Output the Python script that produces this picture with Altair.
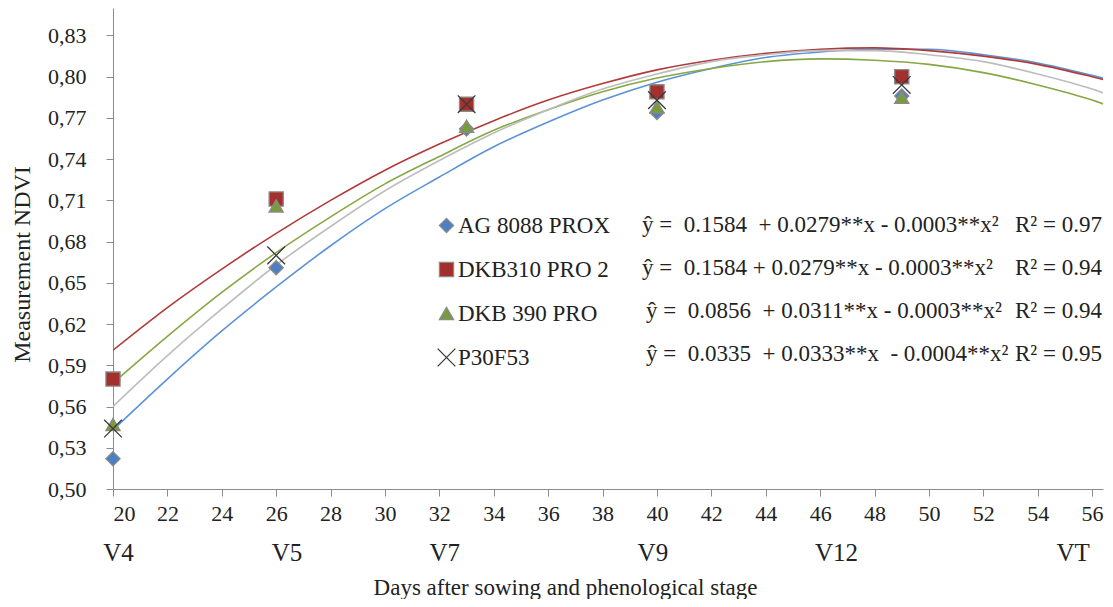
import altair as alt
import pandas as pd

# ---------------- data ----------------
names = ["AG 8088 PROX", "DKB310 PRO 2", "DKB 390 PRO", "P30F53"]

days = [20, 26, 33, 40, 49]
pt_ag8088 = [0.522, 0.661, 0.762, 0.774, 0.786]
pt_dkb310 = [0.580, 0.711, 0.780, 0.789, 0.800]
pt_dkb390 = [0.547, 0.706, 0.764, 0.778, 0.785]
pt_p30f53 = [0.544, 0.670, 0.780, 0.783, 0.794]

curve_days = [20, 22, 24, 26, 28, 30, 32, 34, 36, 38, 40, 42, 44, 46, 48, 50, 52, 54, 56, 57]
fit_ag8088 = [0.543, 0.580, 0.615, 0.647, 0.677, 0.704, 0.727, 0.749, 0.767, 0.783,
              0.796, 0.806, 0.814, 0.818, 0.820, 0.820, 0.816, 0.810, 0.801, 0.796]
fit_dkb310 = [0.601, 0.632, 0.660, 0.686, 0.710, 0.732, 0.751, 0.768, 0.783, 0.795,
              0.805, 0.812, 0.817, 0.820, 0.821, 0.819, 0.815, 0.809, 0.800, 0.795]
fit_dkb390 = [0.577, 0.611, 0.643, 0.672, 0.698, 0.722, 0.742, 0.761, 0.776, 0.789,
              0.799, 0.806, 0.811, 0.813, 0.812, 0.809, 0.803, 0.794, 0.783, 0.776]
fit_p30f53 = [0.560, 0.597, 0.631, 0.663, 0.691, 0.717, 0.739, 0.759, 0.776, 0.791,
              0.802, 0.811, 0.816, 0.819, 0.819, 0.816, 0.811, 0.802, 0.791, 0.784]

stage_labels = ["V4", "V5", "V7", "V9", "V12", "VT"]
stage_days = [20.2, 26.4, 32.2, 39.85, 46.6, 55.3]

equations = [
    "ŷ =\u00a0 0.1584\u00a0 + 0.0279**x - 0.0003**x²",
    "ŷ =\u00a0 0.1584 + 0.0279**x - 0.0003**x²",
    "ŷ =\u00a0 0.0856\u00a0 + 0.0311**x - 0.0003**x²",
    "ŷ =\u00a0 0.0335\u00a0 + 0.0333**x\u00a0 - 0.0004**x²",
]
r2_labels = ["R² = 0.97", "R² = 0.94", "R² = 0.94", "R² = 0.95"]

y_ticks = [0.50, 0.53, 0.56, 0.59, 0.62, 0.65, 0.68, 0.71, 0.74, 0.77, 0.80, 0.83]
x_ticks = list(range(20, 57, 2))

# ---------------- styling ----------------
FONT = "Liberation Serif"
line_colors = ["#5B93D6", "#B03C3A", "#86A844", "#BDBDBD"]
fill_colors = ["#4C80C4", "#A3302D", "#7A9B3C", "#333333"]
stroke_colors = ["#8A8A8A", "#8A8A8A", "#8A8A8A", "#3A3A3A"]
shapes = ["diamond", "square", "triangle-up", "M-1.25,-1.25L1.25,1.25M-1.25,1.25L1.25,-1.25"]
eq_x = [529, 529, 533, 533]

W, H = 990, 481

pt_rows = []
for n, vals in zip(names, [pt_ag8088, pt_dkb310, pt_dkb390, pt_p30f53]):
    for d, v in zip(days, vals):
        pt_rows.append({"series": n, "day": d, "ndvi": v})
pts_df = pd.DataFrame(pt_rows)

fit_rows = []
for n, vals in zip(names, [fit_ag8088, fit_dkb310, fit_dkb390, fit_p30f53]):
    for d, v in zip(curve_days, vals):
        fit_rows.append({"curve": n, "day": d, "ndvi": v})
fit_df = pd.DataFrame(fit_rows)

stage_df = pd.DataFrame({"day": stage_days, "label": stage_labels})

xscale = alt.Scale(domain=[20, 56.4], nice=False, zero=False)
yscale = alt.Scale(domain=[0.50, 0.85], nice=False, zero=False)

xaxis = alt.Axis(
    values=x_ticks, format="d", grid=False,
    labelFont=FONT, labelFontSize=22, labelColor="#222222", labelPadding=7,
    tickSize=7, tickColor="#8C8C8C", domainColor="#8C8C8C",
    title="Days after sowing and phenological stage",
    titleFont=FONT, titleFontSize=23, titleFontWeight="normal", titleColor="#222222",
    titleX=452, titleY=98, titleBaseline="middle", titleAlign="center",
)
yaxis = alt.Axis(
    values=y_ticks, grid=False,
    labelExpr="replace(format(datum.value, '.2f'), '.', ',')",
    labelFont=FONT, labelFontSize=22, labelColor="#222222", labelPadding=20,
    tickSize=7, tickColor="#8C8C8C", domainColor="#8C8C8C",
    title="Measurement NDVI",
    titleFont=FONT, titleFontSize=24, titleFontWeight="normal", titleColor="#222222",
    titleX=-91, titleY=256, titleAngle=270, titleBaseline="middle", titleAlign="center",
)

legend = alt.Legend(
    title=None, orient="none", legendX=322, legendY=206,
    labelFont=FONT, labelFontSize=23, labelColor="#222222", labelOffset=0,
    rowPadding=20, padding=0, symbolStrokeWidth=1.3, labelLimit=400, symbolSize=200,
)

points = alt.Chart(pts_df).mark_point(filled=True, opacity=1, strokeWidth=1.3, size=200).encode(
    x=alt.X("day:Q", scale=xscale, axis=xaxis),
    y=alt.Y("ndvi:Q", scale=yscale, axis=yaxis),
    shape=alt.Shape("series:N", scale=alt.Scale(domain=names, range=shapes), legend=legend),
    fill=alt.Fill("series:N", scale=alt.Scale(domain=names, range=fill_colors), legend=legend),
    stroke=alt.Stroke("series:N", scale=alt.Scale(domain=names, range=stroke_colors), legend=legend),
)

line_layers = []
for n, c in zip(names, line_colors):
    line_layers.append(
        alt.Chart(fit_df).transform_filter(alt.datum.curve == n)
        .mark_line(strokeWidth=1.6, interpolate="monotone", clip=True, color=c)
        .encode(x=alt.X("day:Q", scale=xscale), y=alt.Y("ndvi:Q", scale=yscale))
    )

stages = alt.Chart(stage_df).mark_text(
    font=FONT, fontSize=25, color="#222222", baseline="middle", align="center"
).encode(
    x=alt.X("day:Q", scale=xscale),
    y=alt.value(545),
    text="label:N",
)

eq_layers = []
for i, (eq, r2) in enumerate(zip(equations, r2_labels)):
    ypos = 217 + i * 43
    eq_layers.append(
        alt.Chart(pd.DataFrame({"t": [eq]})).mark_text(
            font=FONT, fontSize=23, color="#222222", align="left", baseline="middle"
        ).encode(x=alt.value(eq_x[i]), y=alt.value(ypos), text="t:N")
    )
    eq_layers.append(
        alt.Chart(pd.DataFrame({"t": [r2]})).mark_text(
            font=FONT, fontSize=23, color="#222222", align="right", baseline="middle"
        ).encode(x=alt.value(989), y=alt.value(ypos), text="t:N")
    )

chart = alt.layer(*line_layers, points, stages, *eq_layers).properties(
    width=W, height=H,
    autosize=alt.AutoSizeParams(type="none"),
    padding={"left": 105, "top": 0, "right": 2, "bottom": 110},
    background="white",
).configure_view(strokeWidth=0).configure_axis(labelFont=FONT, titleFont=FONT)

chart.save("out.html", embed_options={"renderer": "svg", "actions": False})
